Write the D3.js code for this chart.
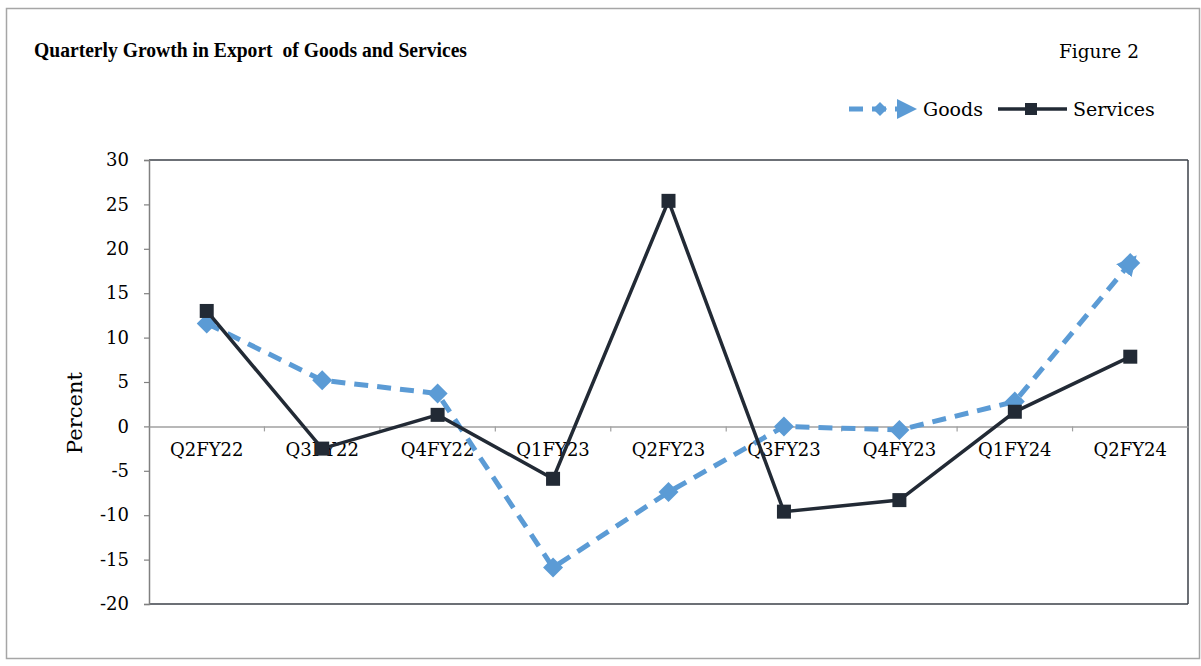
<!DOCTYPE html>
<html><head><meta charset="utf-8">
<script src="https://cdn.jsdelivr.net/npm/d3@7"></script>
<style>
body{margin:0;background:#fff;}
text{font-family:"DejaVu Serif","Liberation Serif",serif;fill:#000;}
</style></head>
<body><svg id="c" width="1201" height="666"></svg>
<script>
const categories = ["Q2FY22","Q3FY22","Q4FY22","Q1FY23","Q2FY23","Q3FY23","Q4FY23","Q1FY24","Q2FY24"];
const goods    = [11.6, 5.2, 3.7, -15.9, -7.4, 0.0, -0.4, 2.8, 18.4];
const services = [13.0, -2.5, 1.3, -5.9, 25.4, -9.6, -8.3, 1.65, 7.85];
const yTicks = [30,25,20,15,10,5,0,-5,-10,-15,-20];
const seriesNames = ["Goods","Services"];

const svg = d3.select("#c");
const m={l:149,r:1188,t:160,b:604};
const goodsColor="#5B9BD5", servColor="#222A35";

svg.append("rect").attr("x",6.5).attr("y",8.5).attr("width",1193).attr("height",650)
  .attr("fill","#fff").attr("stroke","#a6a6a6").attr("stroke-width",1.5);

const x=d3.scaleBand().domain(categories).range([m.l,m.r]);
const y=d3.scaleLinear().domain([-20,30]).range([m.b,m.t]);

const g=svg.append("g");
g.append("line").attr("x1",m.l).attr("x2",m.r).attr("y1",m.t).attr("y2",m.t).attr("stroke","#3b4048").attr("stroke-width",1.5);
g.append("line").attr("x1",m.r).attr("x2",m.r).attr("y1",m.t).attr("y2",m.b).attr("stroke","#3b4048").attr("stroke-width",1.5);
g.append("line").attr("x1",m.l).attr("x2",m.r).attr("y1",m.b).attr("y2",m.b).attr("stroke","#3b4048").attr("stroke-width",1.5);

const ya=svg.append("g").attr("transform",`translate(${m.l},0)`)
  .call(d3.axisLeft(y).tickValues(yTicks).tickSize(5).tickPadding(15).tickFormat(d=>String(d)));
ya.select(".domain").attr("stroke","#808080").attr("stroke-width",1.5);
ya.selectAll(".tick line").attr("stroke","#808080").attr("stroke-width",1.2);
ya.selectAll(".tick text").attr("font-size",18).attr("fill","#000");

const xa=svg.append("g").attr("transform",`translate(0,${y(0)})`)
  .call(d3.axisBottom(x).tickSize(0).tickPadding(17));
xa.select(".domain").attr("stroke","#a0a0a0").attr("stroke-width",1.5);
xa.selectAll(".tick text").attr("font-size",18).attr("fill","#000");
const bounds=categories.slice(1).map(c=>x(c));
svg.append("g").selectAll("line").data(bounds).join("line")
  .attr("x1",d=>d).attr("x2",d=>d).attr("y1",y(0)).attr("y2",y(0)+5)
  .attr("stroke","#a0a0a0").attr("stroke-width",1.2);

const cx=c=>x(c)+x.bandwidth()/2;
const line=d3.line().x((d,i)=>cx(categories[i])).y(d=>y(d));

const defs=svg.append("defs");
defs.append("marker").attr("id","arr").attr("viewBox","0 0 10 10").attr("refX",5).attr("refY",5)
  .attr("markerWidth",4).attr("markerHeight",4).attr("orient","auto-start-reverse")
  .append("path").attr("d","M0,0L10,5L0,10z").attr("fill",goodsColor);

svg.append("path").datum(goods).attr("d",line).attr("fill","none").attr("stroke",goodsColor)
  .attr("stroke-width",5).attr("stroke-dasharray","14,9").attr("marker-end","url(#arr)");
svg.append("g").selectAll("path").data(goods).join("path")
  .attr("transform",(d,i)=>`translate(${cx(categories[i])},${y(d)})`)
  .attr("d","M0,-10L10,0L0,10L-10,0Z").attr("fill",goodsColor);

svg.append("path").datum(services).attr("d",line).attr("fill","none").attr("stroke",servColor).attr("stroke-width",3.5);
svg.append("g").selectAll("rect").data(services).join("rect")
  .attr("x",(d,i)=>cx(categories[i])-7).attr("y",d=>y(d)-7).attr("width",14).attr("height",14).attr("fill",servColor);

svg.append("text").attr("x",34).attr("y",57).attr("font-weight","bold")
  .style("font-family","'Liberation Serif',serif").style("white-space","pre").attr("font-size",20)
  .attr("textLength",433).attr("lengthAdjust","spacingAndGlyphs")
  .text("Quarterly Growth in Export  of Goods and Services");
svg.append("text").attr("x",1059).attr("y",58).attr("font-size",18.5).text("Figure 2");

svg.append("text").attr("transform",`translate(82,413) rotate(-90)`).attr("text-anchor","middle")
  .attr("font-size",21).text("Percent");

const ly=109;
svg.append("line").attr("x1",849).attr("x2",907).attr("y1",ly).attr("y2",ly).attr("stroke",goodsColor)
  .attr("stroke-width",5).attr("stroke-dasharray","14,9").attr("marker-end","url(#arr)");
svg.append("path").attr("transform",`translate(880,${ly})`).attr("d","M0,-7L7,0L0,7L-7,0Z").attr("fill",goodsColor);
svg.append("text").attr("x",923).attr("y",ly+7).attr("font-size",19).text(seriesNames[0]);
svg.append("line").attr("x1",998).attr("x2",1067).attr("y1",ly).attr("y2",ly).attr("stroke",servColor).attr("stroke-width",3.5);
svg.append("rect").attr("x",1025).attr("y",ly-6).attr("width",12).attr("height",12).attr("fill",servColor);
svg.append("text").attr("x",1073).attr("y",ly+7).attr("font-size",19).text(seriesNames[1]);
</script></body></html>
